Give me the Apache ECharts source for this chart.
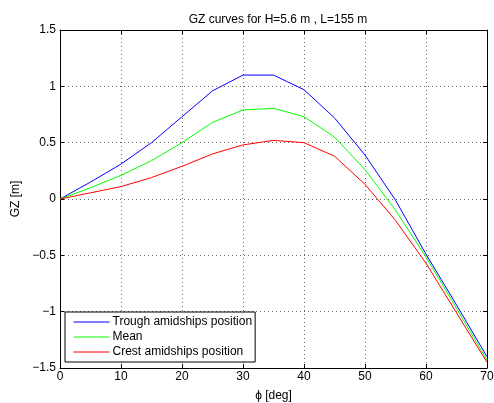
<!DOCTYPE html>
<html><head><meta charset="utf-8">
<script src="https://cdn.jsdelivr.net/npm/echarts@6/dist/echarts.min.js"></script>
<style>html,body{margin:0;padding:0;background:#fff}#c{width:494px;height:403px}</style>
</head><body><div id="c"></div>
<script>
const phi = [0,5,10,15,20,25,30,35,40,45,50,55,60,65,70];
const trough = [0,0.15,0.31,0.50,0.73,0.96,1.10,1.10,0.97,0.72,0.39,-0.01,-0.49,-0.94,-1.40];
const mean = [0,0.10,0.21,0.34,0.50,0.68,0.79,0.805,0.73,0.55,0.26,-0.10,-0.515,-0.97,-1.43];
const crest = [0,0.055,0.11,0.19,0.29,0.40,0.48,0.52,0.50,0.38,0.13,-0.19,-0.57,-1.01,-1.45];
const names = ['Trough amidships position','Mean','Crest amidships position'];
const colors = ['#0000ff','#00ff00','#ff0000'];
const FONT = 'Liberation Sans';
const FS = 12;
const fmt = v => v < 0 ? '\u2212' + Math.abs(v) : String(v);
const pairs = arr => phi.map((x,i)=>[x,arr[i]]);
const chart = echarts.init(document.getElementById('c'));
const split = {show:true,lineStyle:{color:'#666',type:[1,3],width:1}};
chart.setOption({
  animation:false,
  textStyle:{fontFamily:FONT},
  title:{text:'GZ curves for H=5.6 m , L=155 m',left:273,textAlign:'center',top:9,
    textStyle:{fontFamily:FONT,fontSize:FS,fontWeight:'normal',color:'#000'}},
  grid:{left:60,top:30,right:7,bottom:35,show:false,containLabel:false,outerBoundsMode:'none'},
  legend:{orient:'vertical',left:65,top:312,itemWidth:36,itemHeight:12,itemGap:3,
    padding:[4,3,4,8],backgroundColor:'#fff',borderColor:'#000',borderWidth:1,
    itemStyle:{opacity:0},
    textStyle:{fontFamily:FONT,fontSize:FS,color:'#000',padding:[0,0,0,-2]},
    data:names.map((n,i)=>({name:n,lineStyle:{color:colors[i],width:1,opacity:1}}))},
  xAxis:[{type:'value',min:0,max:70,interval:10,position:'bottom',
    name:'\u03d5 [deg]',nameLocation:'middle',nameGap:22,
    nameTextStyle:{fontFamily:FONT,fontSize:FS,color:'#000'},
    axisLine:{onZero:false,lineStyle:{color:'#000',width:1}},
    axisTick:{inside:true,length:4,lineStyle:{color:'#000'}},
    axisLabel:{fontFamily:FONT,fontSize:FS,color:'#000',margin:3,formatter:fmt},
    splitLine:split},
   {type:'value',min:0,max:70,interval:10,position:'top',
    axisLine:{onZero:false,lineStyle:{color:'#000',width:1}},
    axisTick:{inside:true,length:4,lineStyle:{color:'#000'}},
    axisLabel:{show:false},splitLine:{show:false}}],
  yAxis:[{type:'value',min:-1.5,max:1.5,interval:0.5,position:'left',
    name:'GZ [m]',nameLocation:'middle',nameGap:31,
    nameTextStyle:{fontFamily:FONT,fontSize:FS,color:'#000'},
    axisLine:{show:true,onZero:false,lineStyle:{color:'#000',width:1}},
    axisTick:{show:true,inside:true,length:4,lineStyle:{color:'#000'}},
    axisLabel:{fontFamily:FONT,fontSize:FS,color:'#000',margin:4,formatter:fmt},
    splitLine:split},
   {type:'value',min:-1.5,max:1.5,interval:0.5,position:'right',
    axisLine:{show:true,onZero:false,lineStyle:{color:'#000',width:1}},
    axisTick:{show:true,inside:true,length:4,lineStyle:{color:'#000'}},
    axisLabel:{show:false},splitLine:{show:false}}],
  series:[trough,mean,crest].map((d,i)=>({
    name:names[i],type:'line',data:pairs(d),symbol:'none',
    lineStyle:{color:colors[i],width:1},itemStyle:{color:colors[i]}
  }))
});
</script></body></html>
